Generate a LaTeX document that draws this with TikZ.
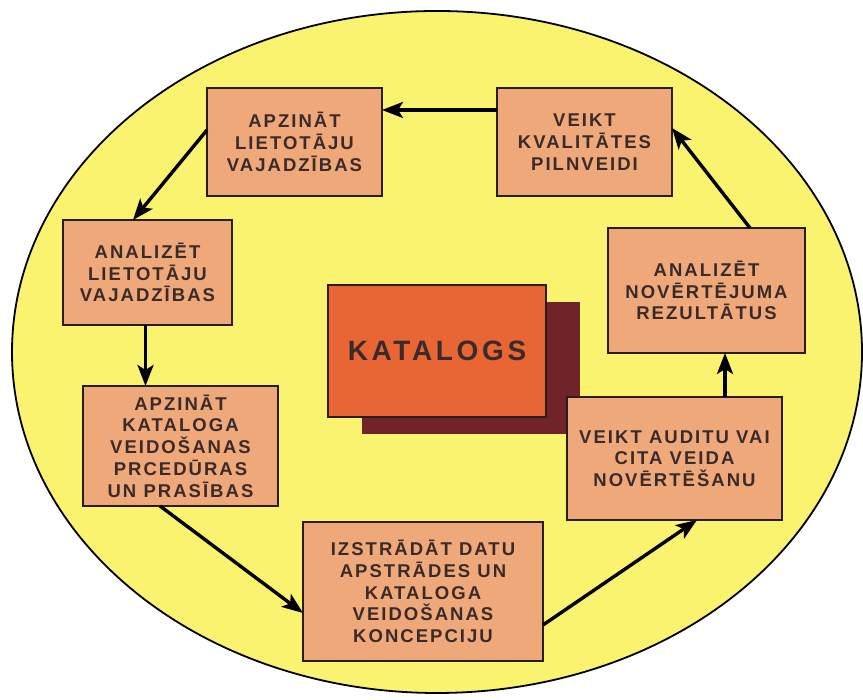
\documentclass[tikz,border=0pt]{standalone}
\usepackage{fontspec}
\setmainfont{Liberation Sans}
\usetikzlibrary{arrows.meta}

\begin{document}
\begin{tikzpicture}[x=1pt,y=1pt,
  stepbox/.style={draw=lineColor,line width=1.8pt,fill=boxColor,text=textColor,
    inner sep=0pt,outer sep=0pt,align=center,
    font=\fontsize{18.5}{21.7}\selectfont\bfseries\addfontfeature{LetterSpace=11}},
  flow/.style={draw=black,line width=3.4pt,-{Stealth[length=21pt,width=16pt,inset=5pt]}}]
\definecolor{fillColor}{RGB}{255,255,255}
\definecolor{ovalColor}{RGB}{250,243,112}
\definecolor{boxColor}{RGB}{238,168,122}
\definecolor{coreColor}{RGB}{231,102,52}
\definecolor{shadowColor}{RGB}{112,36,42}
\definecolor{lineColor}{RGB}{40,28,28}
\definecolor{textColor}{RGB}{58,42,42}
\path[use as bounding box,fill=fillColor] (0,0) rectangle (863,700);

% yellow oval
\path[draw=black,line width=1.8pt,fill=ovalColor] (437.00,348.00) ellipse (425 and 341);

% centre box with shadow
\path[fill=shadowColor] (362.00,266.00) rectangle (580.00,398.00);
\node[stepbox,fill=coreColor,minimum width=218,minimum height=132,
  font=\fontsize{28}{30}\selectfont\bfseries\addfontfeature{LetterSpace=13}] (core) at (437.00,349.00) {KATALOGS};

% process steps
\node[stepbox,minimum width=175,minimum height=108] (b1) at (294.50,558.00) {APZINĀT\\LIETOTĀJU\\VAJADZĪBAS};
\node[stepbox,minimum width=175,minimum height=108] (b2) at (584.50,558.00) {VEIKT\\KVALITĀTES\\PILNVEIDI};
\node[stepbox,minimum width=169,minimum height=105] (b3) at (147.50,427.50) {ANALIZĒT\\LIETOTĀJU\\VAJADZĪBAS};
\node[stepbox,minimum width=195,minimum height=120] (b4) at (180.50,254.00) {APZINĀT\\KATALOGA\\VEIDOŠANAS\\PRCEDŪRAS\\UN PRASĪBAS};
\node[stepbox,minimum width=240,minimum height=139] (b5) at (423.00,108.50) {IZSTRĀDĀT DATU\\APSTRĀDES UN\\KATALOGA\\VEIDOŠANAS\\KONCEPCIJU};
\node[stepbox,minimum width=215,minimum height=123] (b6) at (674.50,241.50) {VEIKT AUDITU VAI\\CITA VEIDA\\NOVĒRTĒŠANU};
\node[stepbox,minimum width=197,minimum height=125] (b7) at (706.50,409.50) {ANALIZĒT\\NOVĒRTĒJUMA\\REZULTĀTUS};

% cycle
\path[flow] ([yshift=-22pt]b2.north west) -- ([yshift=-22pt]b1.north east);
\path[flow] ([yshift=-42pt]b1.north west) -- ([xshift=70pt]b3.north west);
\path[flow] ([xshift=-2pt]b3.south) -- ([xshift=-2pt]b3.south |- b4.north);
\path[flow] ([xshift=77pt]b4.south west) -- ([yshift=-91pt]b5.north west);
\path[flow] ([yshift=36pt]b5.south east) -- ([xshift=130pt]b6.south west);
\path[flow] ([xshift=158pt]b6.north west) -- ([xshift=158pt]b6.north west |- b7.south);
\path[flow] ([xshift=142pt]b7.north west) -- ([yshift=-40pt]b2.north east);
\end{tikzpicture}
\end{document}
